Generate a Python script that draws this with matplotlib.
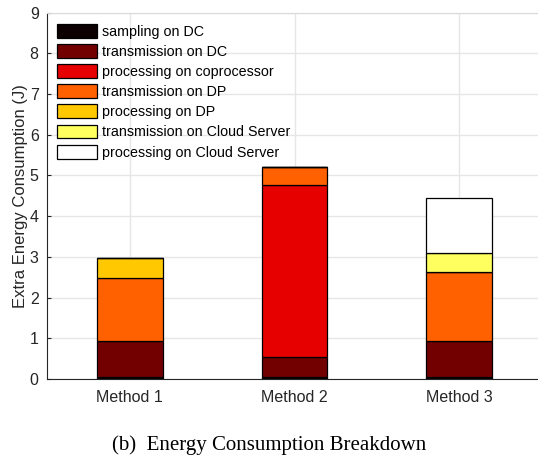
import numpy as np
import matplotlib.pyplot as plt

methods = ["Method 1", "Method 2", "Method 3"]
components = ["sampling on DC", "transmission on DC", "processing on coprocessor",
              "transmission on DP", "processing on DP",
              "transmission on Cloud Server", "processing on Cloud Server"]
sampling_dc = [0.05, 0.05, 0.05]
trans_dc = [0.89, 0.48, 0.89]
proc_coproc = [0.0, 4.23, 0.0]
trans_dp = [1.53, 0.46, 1.69]
proc_dp = [0.51, 0.0, 0.0]
trans_cloud = [0.0, 0.0, 0.46]
proc_cloud = [0.0, 0.0, 1.36]
colors = ["#0d0000", "#730000", "#e60000", "#ff6000", "#ffc800", "#ffff60", "#ffffff"]

series = [sampling_dc, trans_dc, proc_coproc, trans_dp, proc_dp, trans_cloud, proc_cloud]

plt.rcParams['font.family'] = ['Liberation Sans', 'DejaVu Sans']

fig = plt.figure(figsize=(5.38, 4.62), dpi=100)
ax = fig.add_axes([0.0874, 0.1797, 0.92, 0.7928])

x = np.arange(1, len(methods) + 1)
bottom = np.zeros(len(methods))
for name, vals, c in zip(components, series, colors):
    vals = np.array(vals)
    ax.bar(x, vals, width=0.4, bottom=bottom, color=c, edgecolor="black",
           linewidth=0.9, label=name, zorder=3)
    bottom += vals

ax.set_xlim(0.5, 3.5)
ax.set_ylim(0, 9)
ax.set_xticks(x)
ax.set_xticklabels(methods)
ax.set_yticks(range(0, 10))
ax.tick_params(direction="in", labelsize=11.5, length=3, color="#262626",
               labelcolor="#262626")
ax.tick_params(axis="x", pad=8)
ax.tick_params(axis="y", pad=6)
ax.grid(True, color="#e6e6e6", linewidth=1, zorder=0)
ax.set_axisbelow(True)
for s in ["left", "bottom"]:
    ax.spines[s].set_color("#262626")
for s in ["top", "right"]:
    ax.spines[s].set_color("#d9d9d9")
ax.set_ylabel("Extra Energy Consumption (J)", fontsize=12, color="#262626",
              labelpad=1)

leg = ax.legend(loc="upper left", frameon=False, fontsize=10.3,
                handlelength=2.8, handleheight=1.1, labelspacing=0.38,
                handletextpad=0.35, borderaxespad=0.3, bbox_to_anchor=(0.0, 0.997))

fig.text(0.5, 0.037, "(b)  Energy Consumption Breakdown", ha="center", va="center",
         family="Liberation Serif", fontsize=15)

fig.savefig("out.png", dpi=100)
